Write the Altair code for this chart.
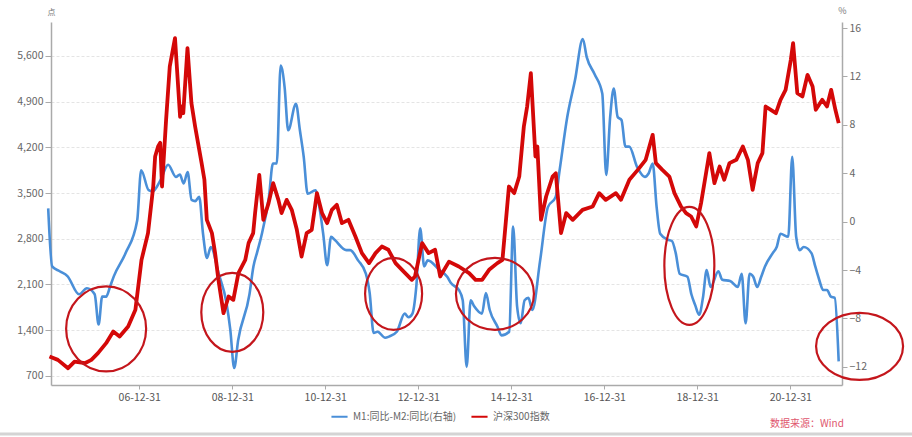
import altair as alt
import pandas as pd

# ---------------- data ----------------
blue_name = "M1:同比-M2:同比(右轴)"
red_name = "沪深300指数"

blue_months = [
    "2005-01", "2005-02", "2005-04", "2005-06", "2005-09", "2005-11", "2006-01", "2006-02", "2006-03",
    "2006-04", "2006-05", "2006-06", "2006-09", "2006-12", "2007-01", "2007-03", "2007-04", "2007-06",
    "2007-08", "2007-10", "2007-11", "2007-12", "2008-01", "2008-02", "2008-03", "2008-04", "2008-05",
    "2008-06", "2008-07", "2008-09", "2008-11", "2008-12", "2009-01", "2009-02", "2009-05", "2009-06",
    "2009-07", "2009-08", "2009-10", "2009-11", "2009-12", "2010-01", "2010-02", "2010-03", "2010-05",
    "2010-06", "2010-07", "2010-08", "2010-10", "2010-11", "2010-12", "2011-01", "2011-02", "2011-03",
    "2011-06", "2011-07", "2011-09", "2011-11", "2011-12", "2012-01", "2012-02", "2012-04", "2012-05",
    "2012-07", "2012-09", "2012-10", "2012-11", "2012-12", "2013-01", "2013-02", "2013-03", "2013-06",
    "2013-08", "2013-09", "2013-11", "2013-12", "2014-01", "2014-02", "2014-03", "2014-05", "2014-06",
    "2014-07", "2014-09", "2014-10", "2014-12", "2015-01", "2015-02", "2015-03", "2015-04", "2015-05",
    "2015-06", "2015-08", "2015-10", "2015-12", "2016-01", "2016-03", "2016-05", "2016-07", "2016-08",
    "2016-10", "2016-12", "2017-01", "2017-02", "2017-03", "2017-04", "2017-05", "2017-06", "2017-07",
    "2017-09", "2017-11", "2017-12", "2018-01", "2018-02", "2018-03", "2018-05", "2018-06", "2018-07",
    "2018-08", "2018-10", "2018-11", "2018-12", "2019-01", "2019-02", "2019-03", "2019-04", "2019-06",
    "2019-07", "2019-09", "2019-11", "2019-12", "2020-01", "2020-02", "2020-03", "2020-04", "2020-05",
    "2020-06", "2020-08", "2020-09", "2020-10", "2020-12", "2021-01", "2021-02", "2021-03", "2021-04",
    "2021-06", "2021-07", "2021-08", "2021-09", "2021-10", "2021-11", "2021-12", "2022-01",
]
blue_values = [
    1.1, -3.7, -4.1, -4.5, -6.0, -5.5, -6.0, -8.5, -6.2,
    -6.2, -5.4, -4.5, -2.6, 0.1, 4.25, 2.6, 2.5, 3.4,
    4.7, 3.7, 3.9, 3.15, 4.1, 1.8, 1.7, 2.05, -1.0,
    -3.0, -2.1, -4.3, -6.7, -8.9, -12.1, -9.8, -6.0, -3.7,
    -2.5, -1.25, 2.05, 4.8, 4.8, 12.9, 11.1, 7.55, 9.75,
    7.55, 5.35, 2.3, 2.6, 1.2, -1.0, -3.6, -1.25, -1.5,
    -2.35, -2.35, -3.2, -4.3, -5.9, -9.2, -9.1, -9.6, -9.5,
    -9.1, -7.6, -7.9, -7.6, -5.4, -0.55, -3.7, -3.2, -4.0,
    -4.55, -5.1, -5.65, -6.5, -12.0, -6.5, -7.0, -7.6, -5.9,
    -7.3, -8.7, -9.4, -9.1, -0.4, -7.0, -8.4, -6.5, -6.3,
    -7.3, -3.2, 1.2, 2.05, 4.25, 8.65, 11.7, 15.1, 13.6,
    12.2, 10.6, 3.85, 8.65, 11.0, 8.65, 8.4, 6.2, 6.2,
    4.5, 3.7, 4.0, 4.8, 1.2, -1.0, -1.5, -1.6, -2.6,
    -4.3, -4.55, -6.0, -6.9, -7.7, -6.2, -4.0, -5.4, -4.1,
    -4.8, -4.9, -5.4, -4.3, -8.4, -4.3, -4.55, -5.4, -4.6,
    -3.7, -2.6, -2.1, -1.0, -1.25, 5.35, -1.25, -2.35, -2.1,
    -2.6, -3.7, -4.8, -5.65, -5.65, -6.2, -6.3, -11.55,
]

red_dates = [
    "2005-01-25", "2005-04-01", "2005-06-20", "2005-08-10", "2005-10-30", "2005-12-20", "2006-02-10",
    "2006-04-15", "2006-06-10", "2006-07-30", "2006-10-05", "2006-12-01", "2007-01-18", "2007-03-10",
    "2007-04-20", "2007-05-05", "2007-05-28", "2007-06-14", "2007-06-28", "2007-07-30", "2007-08-28",
    "2007-10-08", "2007-11-17", "2007-12-01", "2007-12-12", "2008-01-14", "2008-02-14", "2008-03-14",
    "2008-05-04", "2008-05-26", "2008-06-14",
    "2008-07-24", "2008-08-18", "2008-09-13", "2008-10-23", "2008-12-02", "2009-01-08", "2009-02-17",
    "2009-04-12", "2009-05-08", "2009-06-13", "2009-06-28", "2009-07-31", "2009-09-01", "2009-10-12",
    "2009-11-17", "2009-12-28", "2010-01-22", "2010-03-03", "2010-04-12", "2010-05-22", "2010-06-28",
    "2010-08-07", "2010-09-16", "2010-10-27", "2010-12-06", "2011-01-15", "2011-02-21", "2011-04-01",
    "2011-05-11", "2011-07-01", "2011-08-25", "2011-10-15", "2011-12-10", "2012-01-30", "2012-03-20",
    "2012-05-10", "2012-07-05", "2012-08-25", "2012-11-10", "2012-12-05", "2013-01-30", "2013-03-22",
    "2013-05-12", "2013-06-21", "2013-08-29", "2013-11-14", "2014-02-03", "2014-03-26", "2014-05-16",
    "2014-07-10", "2014-09-13", "2014-10-23", "2014-12-13", "2015-01-23", "2015-03-04", "2015-04-09",
    "2015-05-05", "2015-06-03", "2015-07-09", "2015-07-24", "2015-08-22", "2015-10-01", "2015-11-21",
    "2015-12-16", "2016-01-26", "2016-03-07", "2016-04-27", "2016-07-13", "2016-10-01", "2016-11-21",
    "2017-01-11", "2017-04-01", "2017-05-11", "2017-07-16", "2017-09-20", "2017-11-21", "2018-01-15",
    "2018-02-09", "2018-04-01", "2018-05-26", "2018-07-05", "2018-08-25", "2018-10-04", "2018-11-13",
    "2018-12-23", "2019-01-30", "2019-03-10", "2019-04-05", "2019-05-15", "2019-06-25", "2019-07-31",
    "2019-09-10", "2019-11-03", "2019-12-24", "2020-02-02", "2020-03-10", "2020-04-19", "2020-05-26",
    "2020-06-20", "2020-07-31", "2020-09-09", "2020-10-15", "2020-11-24", "2021-01-04", "2021-01-22",
    "2021-02-24", "2021-04-05", "2021-05-15", "2021-06-24", "2021-07-19", "2021-09-08", "2021-10-15",
    "2021-11-17", "2021-12-20", "2022-01-15",
]
red_values = [
    996, 945, 818, 919, 894, 945, 1048,
    1201, 1379, 1302, 1455, 1711, 2477, 2886,
    3600, 4060, 4213, 4270, 3600, 4622, 5439,
    5873, 4668, 4826, 4725, 5720, 4878, 4520,
    3958, 3703, 3090,
    2886, 2580, 2171, 1661, 1915, 1864, 2273,
    2477, 2733, 2886, 3193, 3779, 3090, 3346,
    3652, 3396, 3193, 3396, 3243, 2937, 2528,
    2886, 2937, 3499, 3193, 3039, 3243, 3320,
    3039, 3090, 2834, 2580, 2427, 2580, 2681,
    2631, 2427, 2324, 2171, 2222, 2733, 2580,
    2631, 2222, 2450, 2375, 2273, 2171, 2171,
    2324, 2427, 2477, 3600, 3499, 3753, 4520,
    4826, 5337, 4060, 4213, 3090, 3447, 3753,
    3804, 2886, 3193, 3090, 3243, 3295, 3499,
    3396, 3499, 3396, 3703, 3855, 4009, 4392,
    3958, 3855, 3753, 3499, 3295, 3193, 3141,
    2988, 3346, 3804, 4112, 3652, 3906, 3703,
    3958, 4009, 4213, 4009, 3550, 3958, 4112,
    4826, 4775, 4724, 4928, 5081, 5541, 5797,
    5031, 4979, 5311, 5132, 4775, 4928, 4826,
    5081, 4775, 4571,
]

x_tick_dates = ["2006-12-31", "2008-12-31", "2010-12-31", "2012-12-31",
                "2014-12-31", "2016-12-31", "2018-12-31", "2020-12-31"]
left_ticks = [700, 1400, 2100, 2800, 3500, 4200, 4900, 5600]
right_ticks = [-12, -8, -4, 0, 4, 8, 12, 16]

# hand-drawn red ellipses (centre date, centre index level)
ring_dates = ["2006-04-15", "2008-12-31", "2012-06-20", "2014-08-25", "2018-10-30", "2022-06-28"]
ring_levels = [1420, 1673, 1956, 1956, 2385, 1152]
ring_w = [80, 62, 57, 78, 50, 87]
ring_h = [85, 79, 72, 72, 118, 67]

source_text = "数据来源：Wind"

# ---------------- chart ----------------
FONT = "Noto Sans CJK SC"
BLUE = "#4a8fd8"
RED = "#d40808"

blue_df = pd.DataFrame({"date": [m + "-15T00:00:00" for m in blue_months],
                        "value": blue_values, "series": blue_name})
red_df = pd.DataFrame({"date": [d + "T00:00:00" for d in red_dates],
                       "value": red_values, "series": red_name})

x_scale = alt.Scale(domain=[alt.DateTime(year=2005, month=2, date=6),
                            alt.DateTime(year=2022, month=2, date=10)], nice=False)
x_axis = alt.Axis(values=[alt.DateTime(year=int(d[:4]), month=int(d[5:7]), date=int(d[8:]))
                          for d in x_tick_dates],
                  format="%y-%m-%d", title=None, grid=False, labelFont=FONT, labelFontSize=10.5,
                  labelColor="#555", domainColor="#aaa", domainWidth=1.5, tickColor="#aaa",
                  tickSize=4, labelPadding=3)
left_scale = alt.Scale(domain=[560, 6120], nice=False, zero=False)
right_scale = alt.Scale(domain=[-13.5, 16.5], nice=False, zero=False)

left_axis = alt.Axis(orient="left", values=left_ticks, format=",d", title="点", titleAngle=0,
                     titleX=0, titleY=-10, titleAlign="center", titleBaseline="middle",
                     titleFontSize=8, titleFontWeight="normal", titleColor="#777",
                     titleFont=FONT, grid=True, gridColor="#e4e4e4", gridDash=[3, 2],
                     labelFont=FONT, labelFontSize=10.5, labelColor="#666",
                     domainColor="#aaa", domainWidth=1.5, tickColor="#aaa", tickSize=6,
                     labelPadding=2)
right_axis = alt.Axis(orient="right", values=right_ticks, title="%", titleAngle=0, titleX=0,
                      titleY=-12, titleAlign="center", titleBaseline="middle",
                      titleFontSize=9, titleFontWeight="normal", titleColor="#777",
                      titleFont=FONT, grid=False, labelFont=FONT, labelFontSize=10.5,
                      labelColor="#666", domainColor="#aaa", domainWidth=1.5,
                      tickColor="#aaa", tickSize=5, labelPadding=2)

color_scale = alt.Scale(domain=[blue_name, red_name], range=[BLUE, RED])
legend = alt.Legend(orient="none", legendX=279, legendY=385, direction="horizontal", title=None,
                    symbolType="stroke", symbolStrokeWidth=2, symbolSize=260,
                    labelFont=FONT, labelFontSize=10, labelColor="#666", columnPadding=10,
                    symbolOffset=0)

blue = alt.Chart(blue_df).mark_line(strokeWidth=2.6, strokeJoin="round",
                                    interpolate="monotone").encode(
    x=alt.X("date:T", scale=x_scale, axis=x_axis),
    y=alt.Y("value:Q", scale=right_scale, axis=right_axis),
    color=alt.Color("series:N", scale=color_scale, legend=legend),
)

red = alt.Chart(red_df).mark_line(strokeWidth=3.8, strokeJoin="round").encode(
    x=alt.X("date:T", scale=x_scale, axis=x_axis),
    y=alt.Y("value:Q", scale=left_scale, axis=left_axis),
    color=alt.Color("series:N", scale=color_scale, legend=legend),
)

rings = []
for d, v, w, h in zip(ring_dates, ring_levels, ring_w, ring_h):
    big = max(w, h)
    rx, ry = w / big, h / big
    path = f"M {-rx} 0 A {rx} {ry} 0 1 1 {rx} 0 A {rx} {ry} 0 1 1 {-rx} 0 Z"
    ring_df = pd.DataFrame({"date": [d + "T00:00:00"], "value": [v]})
    rings.append(
        alt.Chart(ring_df).mark_point(filled=False, stroke="#c4161c", strokeWidth=2.2,
                                      opacity=1, clip=False).encode(
            x=alt.X("date:T", scale=x_scale, axis=x_axis),
            y=alt.Y("value:Q", scale=left_scale, axis=left_axis),
            shape=alt.value(path),
            size=alt.value(big * big),
        )
    )

left_group = alt.layer(red, *rings)

source = alt.Chart(pd.DataFrame({"t": [source_text]})).mark_text(
    align="left", baseline="middle", font=FONT, fontSize=10, color="#e0566e"
).encode(text="t:N", x=alt.value(719), y=alt.value(402))

bottom_rule = alt.Chart(pd.DataFrame({"a": [0]})).mark_rule(
    color="#d4d4d4", strokeWidth=3
).encode(x=alt.value(-51), x2=alt.value(861), y=alt.value(412))

chart = alt.layer(blue, left_group, source, bottom_rule).resolve_scale(
    y="independent"
).properties(
    width=791, height=363, autosize="none",
    padding={"left": 51, "top": 22, "right": 70, "bottom": 52},
    background="white",
).configure_view(stroke=None)

chart.save("out.html", embed_options={"renderer": "svg", "actions": False})
